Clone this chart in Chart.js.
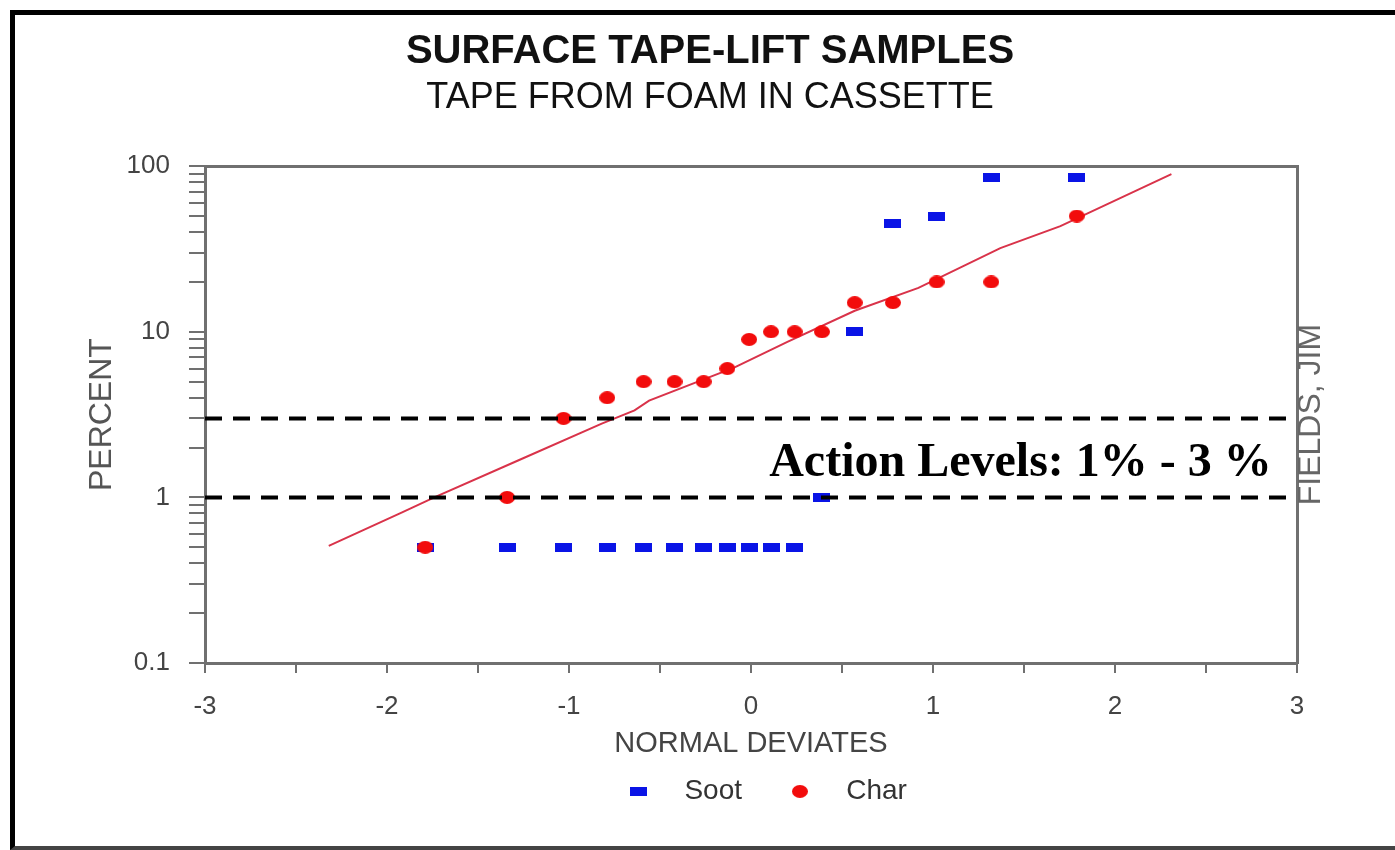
<!DOCTYPE html>
<html>
<head>
<meta charset="utf-8">
<title>Surface tape-lift samples</title>
<script src="https://cdn.jsdelivr.net/npm/chart.js@4.4.0/dist/chart.umd.min.js"></script>
<style>
  body { margin: 0; background: #fff; }
  #wrap { position: relative; width: 1395px; height: 850px; overflow: hidden; }
  #myChart { display: block; }
  #frame { position: absolute; left: 10px; top: 10px; width: 1400px; height: 831px;
           border-left: 5px solid #000; border-top: 5px solid #000; border-bottom: 4px solid #444;
           pointer-events: none; }
</style>
</head>
<body>
<div id="wrap">
  <canvas id="myChart" width="1395" height="850"></canvas>
  <div id="frame"></div>
</div>
<script>
// DATA
var deviates   = [-1.79, -1.34, -1.03, -0.79, -0.59, -0.42, -0.26, -0.13, -0.01, 0.11, 0.24, 0.39, 0.57, 0.78, 1.02, 1.32, 1.79];
var sootValues = [0.5, 0.5, 0.5, 0.5, 0.5, 0.5, 0.5, 0.5, 0.5, 0.5, 0.5, 1, 10, 45, 50, 85, 85];
var charValues = [0.5, 1, 3, 4, 5, 5, 5, 6, 9, 10, 10, 10, 15, 15, 20, 20, 50];
var fitDeviates = [-2.32, -1.92, -1.74, -1.28, -0.82, -0.64, -0.56, -0.09, 0.20, 0.57, 0.92, 1.37, 1.70, 2.31];
var fitValues   = [0.51, 0.81, 1.0, 1.67, 2.79, 3.35, 3.84, 6.1, 8.7, 13.4, 18.4, 32, 43.5, 89.5];
var actionLevels = [3, 1];
var xRange = [-3, 3];
var yRange = [0.1, 100];
var yTickValues = [0.1, 0.2, 0.3, 0.4, 0.5, 0.6, 0.7, 0.8, 0.9,
                   1, 2, 3, 4, 5, 6, 7, 8, 9,
                   10, 20, 30, 40, 50, 60, 70, 80, 90, 100];
var yLabelValues = [0.1, 1, 10, 100];
var actionText = 'Action Levels: 1% - 3 %';
var actionTextAt = [0.1, 1.34];
var sideNote = 'FIELDS, JIM';

var SANS = '"Liberation Sans", Arial, sans-serif';
var SERIF = '"Liberation Serif", "Times New Roman", serif';
var AXIS_GREY = '#707070';
var legendShift = 17;

function toPoints(xs, ys){
    return xs.map(function(x, i){ return {x: x, y: ys[i]}; });
}

function makeMarker(w, h, color, round){
    var c = document.createElement('canvas');
    c.width = w; c.height = h;
    var g = c.getContext('2d');
    g.fillStyle = color;
    if (round) {
        g.beginPath();
        g.ellipse(w / 2, h / 2, w / 2, h / 2, 0, 0, Math.PI * 2);
        g.fill();
    } else {
        g.fillRect(0, 0, w, h);
    }
    return c;
}

var sootMarker = makeMarker(17, 9, '#0a14e6', false);
var charMarker = makeMarker(16, 13, '#f20c0c', true);

function actionLine(level){
    return {
        label: 'action' + level,
        type: 'line',
        data: toPoints(xRange, [level, level]),
        showLine: true,
        borderColor: '#000',
        borderWidth: 4,
        borderDash: [17, 11],
        pointRadius: 0,
        fill: false,
        order: 0
    };
}

var extras = {
    id: 'extras',
    afterLayout: function(chart){
        chart.legend.left += legendShift;
        chart.legend.right += legendShift;
    },
    afterDatasetsDraw: function(chart){
        var ctx = chart.ctx;
        var xs = chart.scales.x, ys = chart.scales.y, area = chart.chartArea;
        ctx.save();
        ctx.fillStyle = '#000';
        ctx.font = 'bold 48px ' + SERIF;
        ctx.textAlign = 'left';
        ctx.textBaseline = 'alphabetic';
        ctx.fillText(actionText, xs.getPixelForValue(actionTextAt[0]), ys.getPixelForValue(actionTextAt[1]));
        ctx.translate(area.right + 14, (area.top + area.bottom) / 2);
        ctx.rotate(-Math.PI / 2);
        ctx.fillStyle = '#666';
        ctx.font = '32px ' + SANS;
        ctx.textAlign = 'center';
        ctx.textBaseline = 'middle';
        ctx.fillText(sideNote, 0, 0);
        ctx.restore();
    }
};

var ctx = document.getElementById('myChart').getContext('2d');
var chart = new Chart(ctx, {
    type: 'scatter',
    data: {
        datasets: [{
            label: 'Soot',
            data: toPoints(deviates, sootValues),
            pointStyle: sootMarker,
            backgroundColor: '#0a14e6',
            borderColor: '#0a14e6',
            order: 2
        }, {
            label: 'Char',
            data: toPoints(deviates, charValues),
            pointStyle: charMarker,
            backgroundColor: '#f20c0c',
            borderColor: '#f20c0c',
            order: 1
        }, {
            label: 'fit',
            type: 'line',
            data: toPoints(fitDeviates, fitValues),
            showLine: true,
            borderColor: '#d9334a',
            borderWidth: 2,
            pointRadius: 0,
            fill: false,
            order: 3
        },
        actionLine(actionLevels[0]),
        actionLine(actionLevels[1])]
    },
    plugins: [extras],
    options: {
        responsive: false,
        animation: false,
        layout: { padding: { left: 40, right: 15, top: 14, bottom: 34.6 } },
        scales: {
            x: {
                type: 'linear',
                min: xRange[0], max: xRange[1],
                afterFit: function(s){ s.height = 104.4; },
                border: { color: AXIS_GREY, width: 3 },
                grid: { drawOnChartArea: false, tickLength: 10, color: AXIS_GREY, lineWidth: 2 },
                ticks: {
                    stepSize: 0.5, autoSkip: false, maxRotation: 0, padding: 18,
                    color: '#444', font: { family: SANS, size: 26 },
                    callback: function(v){ return Number.isInteger(v) ? String(v) : ''; }
                },
                title: {
                    display: true, text: 'NORMAL DEVIATES', color: '#444',
                    font: { family: SANS, size: 29 }, padding: { top: 0, bottom: 6 }
                }
            },
            x2: {
                type: 'linear', position: 'top',
                min: xRange[0], max: xRange[1],
                afterFit: function(s){ s.height = 0; },
                border: { color: AXIS_GREY, width: 3 },
                grid: { display: false },
                ticks: { display: false }
            },
            y: {
                type: 'logarithmic',
                min: yRange[0], max: yRange[1],
                afterBuildTicks: function(s){ s.ticks = yTickValues.map(function(v){ return {value: v}; }); },
                afterFit: function(s){ s.width = 165; },
                border: { color: AXIS_GREY, width: 3 },
                grid: { drawOnChartArea: false, tickLength: 16, color: AXIS_GREY, lineWidth: 2 },
                ticks: {
                    autoSkip: false, padding: 19,
                    color: '#444', font: { family: SANS, size: 26 },
                    callback: function(v){ return yLabelValues.indexOf(v) >= 0 ? String(v) : ''; }
                },
                title: {
                    display: true, text: 'PERCENT', color: '#555',
                    font: { family: SANS, size: 32 }, padding: { top: 42.8, bottom: 0 }
                }
            },
            y2: {
                type: 'linear', position: 'right',
                afterFit: function(s){ s.width = 83; },
                border: { color: AXIS_GREY, width: 3 },
                grid: { display: false },
                ticks: { display: false }
            }
        },
        plugins: {
            title: {
                display: true, text: 'SURFACE TAPE-LIFT SAMPLES', color: '#111',
                font: { family: SANS, size: 40, weight: 'bold' },
                padding: { top: 14, bottom: 0 }
            },
            subtitle: {
                display: true, text: 'TAPE FROM FOAM IN CASSETTE', color: '#111',
                font: { family: SANS, size: 36, weight: 'normal' },
                padding: { top: 0.6, bottom: 46.4 }
            },
            legend: {
                position: 'bottom',
                fullSize: false,
                labels: {
                    usePointStyle: true,
                    boxWidth: 18, boxHeight: 10, padding: 10,
                    color: '#333',
                    font: { family: SANS, size: 28 },
                    generateLabels: function(c){
                        var items = Chart.defaults.plugins.legend.labels.generateLabels(c);
                        items = items.filter(function(it){ return it.text === 'Soot' || it.text === 'Char'; });
                        items.sort(function(a, b){ return a.datasetIndex - b.datasetIndex; });
                        items.forEach(function(it, i){
                            it.text = '   ' + it.text + (i === 0 ? '     ' : '');
                        });
                        return items;
                    }
                }
            },
            tooltip: { enabled: false }
        }
    }
});
</script>
</body>
</html>
